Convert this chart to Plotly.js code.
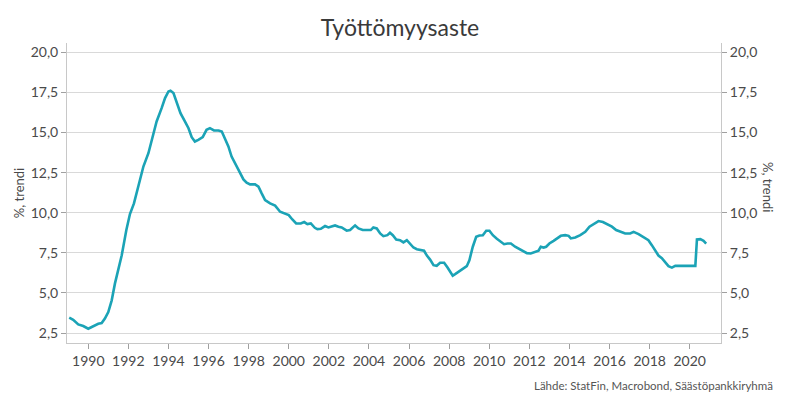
<!DOCTYPE html>
<html>
<head>
<meta charset="utf-8">
<script src="https://cdn.plot.ly/plotly-3.0.1.min.js"></script>
<style>html,body{margin:0;padding:0;background:#fff;}#chart{width:800px;height:410px;}</style>
</head>
<body>
<div id="chart"></div>
<script>
// Decimal years and unemployment rate (%, trend)
var years = [1989.05,1989.25,1989.5,1989.75,1990.0,1990.25,1990.5,1990.67,1990.83,1991.0,1991.17,1991.33,1991.5,1991.67,1991.9,1992.08,1992.28,1992.42,1992.58,1992.75,1993.0,1993.2,1993.41,1993.66,1993.83,1994.0,1994.1,1994.25,1994.41,1994.6,1994.82,1995.0,1995.16,1995.32,1995.49,1995.71,1995.9,1996.07,1996.27,1996.5,1996.66,1996.82,1996.99,1997.15,1997.37,1997.57,1997.74,1997.9,1998.07,1998.32,1998.49,1998.65,1998.82,1999.07,1999.32,1999.57,1999.82,2000.0,2000.18,2000.37,2000.6,2000.77,2000.93,2001.1,2001.3,2001.43,2001.6,2001.81,2001.98,2002.14,2002.31,2002.48,2002.64,2002.89,2003.06,2003.31,2003.48,2003.69,2003.89,2004.09,2004.22,2004.39,2004.56,2004.72,2004.92,2005.05,2005.19,2005.36,2005.55,2005.72,2005.89,2006.05,2006.22,2006.39,2006.59,2006.75,2006.89,2007.05,2007.22,2007.38,2007.55,2007.75,2007.92,2008.05,2008.18,2008.30,2008.52,2008.71,2008.88,2009.01,2009.18,2009.35,2009.51,2009.68,2009.85,2010.01,2010.18,2010.38,2010.54,2010.74,2010.91,2011.08,2011.29,2011.51,2011.68,2011.88,2012.07,2012.29,2012.46,2012.57,2012.71,2012.84,2013.0,2013.21,2013.41,2013.57,2013.79,2013.96,2014.07,2014.29,2014.54,2014.79,2015.0,2015.2,2015.45,2015.67,2015.87,2016.12,2016.33,2016.56,2016.78,2017.03,2017.2,2017.45,2017.7,2017.94,2018.11,2018.28,2018.44,2018.61,2018.78,2018.94,2019.11,2019.28,2019.53,2019.86,2020.28,2020.36,2020.53,2020.69,2020.82];
var rate = [3.46,3.33,3.04,2.94,2.77,2.92,3.08,3.12,3.40,3.81,4.54,5.58,6.42,7.35,8.92,9.92,10.58,11.31,12.04,12.88,13.71,14.65,15.69,16.52,17.15,17.56,17.60,17.46,16.94,16.21,15.69,15.27,14.71,14.44,14.54,14.71,15.17,15.27,15.13,15.13,15.06,14.65,14.13,13.50,12.98,12.56,12.08,11.88,11.77,11.77,11.63,11.21,10.79,10.58,10.44,10.06,9.96,9.85,9.58,9.33,9.33,9.42,9.29,9.33,9.06,8.98,9.00,9.17,9.08,9.13,9.21,9.13,9.08,8.88,8.92,9.21,9.02,8.92,8.92,8.92,9.08,9.02,8.71,8.54,8.60,8.75,8.60,8.33,8.29,8.15,8.29,8.04,7.83,7.73,7.67,7.63,7.33,7.08,6.73,6.69,6.88,6.88,6.58,6.31,6.08,6.17,6.38,6.52,6.67,7.04,7.88,8.50,8.58,8.60,8.88,8.88,8.60,8.38,8.25,8.04,8.08,8.08,7.88,7.75,7.60,7.48,7.46,7.54,7.63,7.88,7.83,7.88,8.08,8.25,8.40,8.56,8.60,8.56,8.40,8.46,8.60,8.81,9.13,9.29,9.48,9.42,9.31,9.13,8.92,8.79,8.71,8.71,8.81,8.67,8.46,8.29,7.98,7.63,7.33,7.17,6.88,6.67,6.58,6.69,6.69,6.69,6.69,8.33,8.35,8.25,8.08];
var yTicks = [2.5,5,7.5,10,12.5,15,17.5,20];
var xTicks = [1990,1992,1994,1996,1998,2000,2002,2004,2006,2008,2010,2012,2014,2016,2018,2020];
var titleText = 'Työttömyysaste';
var yTitle = '%, trendi';
var sourceText = 'Lähde: StatFin, Macrobond, Säästöpankkiryhmä';

var FONT = 'Lato, "Open Sans", sans-serif';
var lineColor = '#1ba3b6';
var textColor = '#4a4a4a';
var yr = [1.88, 20.58];

var traces = [
  {x: years, y: rate, type: 'scatter', mode: 'lines', line: {color: lineColor, width: 2.6, shape: 'linear'}, hoverinfo: 'x+y', showlegend: false},
  {x: years, y: rate, type: 'scatter', mode: 'lines', yaxis: 'y2', line: {color: 'rgba(0,0,0,0)', width: 0}, hoverinfo: 'skip', showlegend: false}
];

var yCommon = {
  range: yr, tickvals: yTicks, tickformat: '.1f',
  showgrid: true, gridcolor: '#d9d9d9', gridwidth: 1,
  zeroline: false, showline: true, linecolor: '#c8c8c8', linewidth: 1,
  ticks: 'outside', ticklen: 5, tickcolor: '#a0a0a0',
  tickfont: {family: FONT, size: 14, color: textColor}
};

var layout = {
  width: 800, height: 410,
  margin: {l: 67, r: 79, t: 43, b: 67},
  paper_bgcolor: '#fff', plot_bgcolor: '#fff',
  separators: ', ',
  font: {family: FONT, color: textColor},
  title: {text: titleText, x: 0.5, xanchor: 'center', y: 0.932, yanchor: 'middle', font: {family: FONT, size: 23, color: '#3a3a3a'}},
  xaxis: {
    range: [1988.94, 2021.56], tickvals: xTicks, tickformat: 'd',
    showgrid: false, zeroline: false, showline: true, linecolor: '#c8c8c8', linewidth: 1,
    ticks: 'outside', ticklen: 5, tickcolor: '#a0a0a0',
    tickfont: {family: FONT, size: 14, color: textColor}
  },
  yaxis: Object.assign({}, yCommon, {side: 'left', title: {text: yTitle, font: {family: FONT, size: 13, color: textColor}, standoff: 3}}),
  yaxis2: Object.assign({}, yCommon, {side: 'right', overlaying: 'y', showgrid: false}),
  annotations: [
    {text: yTitle, xref: 'paper', yref: 'paper', x: 1.0, xshift: 47, y: 0.52, xanchor: 'center', yanchor: 'middle', textangle: 90, showarrow: false, font: {family: FONT, size: 13, color: textColor}},
    {text: sourceText, xref: 'paper', yref: 'paper', x: 1.083, y: -0.14, xanchor: 'right', yanchor: 'middle', showarrow: false, font: {family: FONT, size: 11.5, color: '#555555'}}
  ]
};

Plotly.newPlot('chart', traces, layout, {displayModeBar: false, staticPlot: true});
</script>
</body>
</html>
